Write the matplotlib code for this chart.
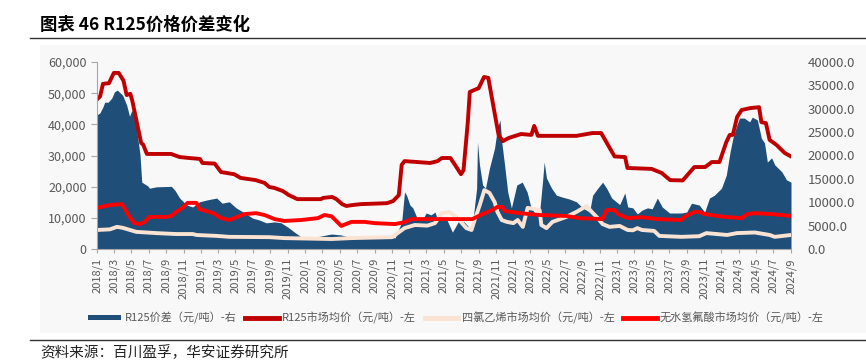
import numpy as np
import pandas as pd
import matplotlib
matplotlib.use("Agg")
import matplotlib.pyplot as plt
from matplotlib.patches import Rectangle
from matplotlib.lines import Line2D

plt.rcParams['font.family'] = ['Noto Sans CJK SC', 'DejaVu Sans']

# R125 market average price (yuan/t), left axis
r125_dates = ["2018-01-01", "2018-01-12", "2018-01-22", "2018-02-12", "2018-03-01", "2018-03-18",
              "2018-04-04", "2018-04-15", "2018-04-28", "2018-05-05", "2018-05-25", "2018-06-05",
              "2018-06-12", "2018-06-25", "2018-09-18", "2018-10-18", "2018-11-20", "2018-12-28",
              "2019-01-06", "2019-02-18", "2019-03-12", "2019-04-27", "2019-05-20", "2019-07-12",
              "2019-08-12", "2019-08-28", "2019-09-15", "2019-10-15", "2019-11-05", "2019-12-05",
              "2020-02-25", "2020-03-05", "2020-04-05", "2020-04-20", "2020-05-10", "2020-05-25",
              "2020-06-15", "2020-07-15", "2020-10-15", "2020-11-05", "2020-11-25", "2020-12-05",
              "2020-12-15", "2021-03-15", "2021-04-10", "2021-04-25", "2021-05-25", "2021-06-10",
              "2021-07-01", "2021-07-10", "2021-07-25", "2021-08-01", "2021-09-01", "2021-09-10",
              "2021-09-20", "2021-10-05", "2021-10-22", "2021-11-10", "2021-11-25", "2021-12-15",
              "2022-01-28", "2022-03-05", "2022-03-15", "2022-03-28", "2022-08-10", "2022-10-05",
              "2022-11-05", "2022-12-05", "2022-12-22", "2023-01-28", "2023-02-05", "2023-05-01",
              "2023-06-05", "2023-07-05", "2023-08-18", "2023-09-28", "2023-11-05", "2023-11-28",
              "2023-12-25", "2024-01-18", "2024-01-30", "2024-02-10", "2024-02-25", "2024-03-12",
              "2024-04-10", "2024-05-12", "2024-05-20", "2024-06-05", "2024-06-18", "2024-07-12",
              "2024-08-10", "2024-08-30"]
r125_vals = [48000, 49000, 53000, 53200, 56500, 56500,
             54000, 49400, 49800, 47500, 38800, 34000,
             33500, 30500, 30500, 29500, 29200, 28900,
             27600, 27400, 24700, 24000, 22800, 22100,
             21200, 19900, 19600, 18600, 17300, 16000,
             16000, 16400, 16700, 16000, 14400, 13800,
             14100, 14400, 14700, 15400, 17300, 27000,
             28200, 27600, 28200, 29200, 29200, 27000,
             24000, 25300, 40700, 50400, 51600, 53300,
             55200, 54900, 46200, 36600, 34600, 35600,
             36900, 36600, 39500, 36300, 36300, 37200,
             37200, 32400, 29700, 29500, 26000, 25700,
             24400, 22100, 22000, 26300, 26300, 27900,
             27900, 34300, 36600, 36600, 42400, 44600,
             45200, 45500, 40700, 40400, 35000, 33400,
             30800, 29800]

# tetrachloroethylene market average price, left axis
pce_dates = ["2018-01-01", "2018-02-15", "2018-03-12", "2018-04-01", "2018-05-19", "2018-07-28",
             "2018-10-06", "2018-12-03", "2018-12-16", "2019-02-25", "2019-04-10", "2019-08-28",
             "2019-10-20", "2020-04-03", "2020-06-12", "2020-11-01", "2020-11-21", "2020-12-15",
             "2021-01-20", "2021-03-05", "2021-04-01", "2021-04-25", "2021-05-21", "2021-06-19",
             "2021-07-20", "2021-08-07", "2021-08-18", "2021-09-05", "2021-09-21", "2021-10-09",
             "2021-10-27", "2021-11-06", "2021-11-21", "2021-12-09", "2022-01-01", "2022-01-16",
             "2022-02-03", "2022-02-20", "2022-04-03", "2022-04-09", "2022-04-27", "2022-05-18",
             "2022-07-06", "2022-08-10", "2022-09-15", "2022-10-03", "2022-10-24", "2022-11-10",
             "2022-12-04", "2023-01-09", "2023-02-06", "2023-02-24", "2023-03-12", "2023-03-28",
             "2023-05-10", "2023-05-28", "2023-08-13", "2023-10-15", "2023-11-09", "2024-01-21",
             "2024-02-24", "2024-04-27", "2024-06-18", "2024-07-06", "2024-09-01"]
pce_vals = [6100, 6300, 7100, 6800, 5500, 5100,
            4800, 4800, 4500, 4200, 3900, 3800,
            3500, 3200, 3500, 3800, 5100, 6700,
            7700, 7500, 8300, 11500, 11900, 9900,
            6700, 6100, 9300, 14100, 18900, 18000,
            15100, 11900, 9300, 8700, 8300, 9300,
            7100, 13200, 12500, 7700, 6700, 8700,
            10300, 11900, 13800, 11900, 9900, 8000,
            7100, 7400, 6100, 6000, 6700, 6100,
            5800, 4200, 3900, 4100, 5100, 4500,
            5100, 5300, 4500, 3900, 4500]

# anhydrous hydrofluoric acid market average price, left axis
hf_dates = ["2018-01-01", "2018-02-15", "2018-03-28", "2018-04-07", "2018-04-25", "2018-05-12",
            "2018-06-01", "2018-06-16", "2018-07-04", "2018-09-03", "2018-09-19", "2018-10-06",
            "2018-10-28", "2018-11-15", "2018-12-16", "2018-12-27", "2019-02-12", "2019-03-13",
            "2019-04-10", "2019-06-03", "2019-07-13", "2019-08-12", "2019-09-16", "2019-10-20",
            "2019-12-18", "2020-02-15", "2020-03-09", "2020-04-03", "2020-05-07", "2020-06-12",
            "2020-07-28", "2020-09-01", "2020-11-12", "2020-12-15", "2021-01-09", "2021-08-10",
            "2021-09-15", "2021-10-19", "2021-11-06", "2021-11-24", "2021-12-01", "2022-01-24",
            "2022-04-03", "2022-07-06", "2022-08-21", "2022-11-10", "2022-11-24", "2022-12-22",
            "2023-01-03", "2023-02-06", "2023-03-28", "2023-05-21", "2023-08-13", "2023-08-24",
            "2023-09-28", "2023-10-15", "2023-11-03", "2024-01-12", "2024-03-12", "2024-04-01",
            "2024-04-27", "2024-06-25", "2024-09-01"]
hf_vals = [13200, 14100, 14400, 13200, 10300, 8300,
           8000, 8600, 10300, 10300, 10600, 11900,
           13200, 14800, 14800, 12800, 11500, 9900,
           9300, 11200, 11500, 10900, 9600, 9000,
           9300, 9900, 10900, 10500, 7400, 8700,
           8700, 8300, 8000, 8600, 9600, 9600,
           11200, 12500, 13500, 13500, 12200, 11500,
           10900, 10600, 9900, 9600, 12500, 12500,
           11200, 9900, 10200, 9600, 9300, 10300,
           11900, 11900, 11200, 10300, 9900, 11200,
           11500, 11200, 10600]

# R125 spread (yuan/t), right axis
spread_dates = ["2018-01-01", "2018-01-11", "2018-01-22", "2018-01-28", "2018-02-09", "2018-02-22",
                "2018-03-03", "2018-03-13", "2018-04-01", "2018-04-15", "2018-04-25", "2018-05-01",
                "2018-05-05", "2018-05-19", "2018-06-01", "2018-06-07", "2018-06-28", "2018-07-04",
                "2018-07-28", "2018-09-19", "2018-10-01", "2018-10-18", "2018-11-12", "2018-12-03",
                "2018-12-27", "2019-01-22", "2019-02-25", "2019-03-16", "2019-04-10", "2019-05-04",
                "2019-06-09", "2019-07-01", "2019-07-25", "2019-08-18", "2019-09-16", "2019-10-09",
                "2019-11-01", "2019-11-25", "2019-12-18", "2020-01-24", "2020-04-03", "2020-05-07",
                "2020-06-12", "2020-11-12", "2020-12-05", "2020-12-15", "2020-12-22", "2021-01-03",
                "2021-01-13", "2021-01-28", "2021-02-15", "2021-03-01", "2021-03-18", "2021-04-01",
                "2021-04-10", "2021-04-25", "2021-05-10", "2021-06-01", "2021-06-25", "2021-07-12",
                "2021-08-01", "2021-08-10", "2021-08-25", "2021-08-28", "2021-09-04", "2021-09-15",
                "2021-09-25", "2021-10-09", "2021-10-27", "2021-11-06", "2021-11-15", "2021-11-21",
                "2021-12-01", "2021-12-12", "2021-12-25", "2022-01-13", "2022-02-01", "2022-02-18",
                "2022-03-04", "2022-03-22", "2022-04-03", "2022-04-13", "2022-04-19", "2022-04-27",
                "2022-05-15", "2022-06-01", "2022-06-22", "2022-07-16", "2022-08-10", "2022-09-01",
                "2022-09-25", "2022-10-06", "2022-10-24", "2022-11-10", "2022-11-24", "2022-12-12",
                "2022-12-28", "2023-01-09", "2023-01-27", "2023-02-06", "2023-02-24", "2023-03-12",
                "2023-03-28", "2023-04-16", "2023-05-03", "2023-05-21", "2023-06-07", "2023-07-03",
                "2023-08-13", "2023-09-01", "2023-09-18", "2023-10-15", "2023-11-03", "2023-11-20",
                "2023-12-07", "2024-01-01", "2024-01-18", "2024-01-31", "2024-02-10", "2024-02-24",
                "2024-03-04", "2024-03-21", "2024-04-09", "2024-04-18", "2024-05-06", "2024-05-20",
                "2024-05-31", "2024-06-10", "2024-06-25", "2024-07-06", "2024-07-31", "2024-08-16",
                "2024-09-01"]
spread_vals = [28700, 29100, 30400, 31400, 31400, 32300,
               33600, 34000, 32900, 30800, 28400, 29300,
               29700, 26100, 20100, 14300, 13500, 13000,
               13300, 13400, 12600, 10900, 9400, 9000,
               10100, 10500, 10900, 9800, 10100, 8800,
               7500, 6600, 6200, 5600, 5800, 5600,
               4700, 3600, 2600, 2400, 3200, 3000,
               2400, 2400, 5800, 12200, 11500, 9400,
               8800, 6600, 6200, 7700, 7300, 7900,
               6200, 6800, 6600, 3600, 6200, 5800,
               4500, 5100, 13000, 22900, 18000, 13700,
               13000, 17300, 21600, 25900, 27600, 22900,
               18000, 12200, 8800, 13700, 14300, 12200,
               8800, 7300, 7900, 14300, 18600, 15200,
               13000, 11500, 11100, 10700, 10100, 8800,
               7900, 11500, 13000, 14300, 13000, 10900,
               10100, 9500, 12000, 9000, 8800, 7500,
               8300, 8800, 8600, 10900, 9000, 7700,
               7700, 7900, 9800, 9400, 7900, 10900,
               11500, 13000, 15800, 20700, 23700, 26500,
               28000, 28000, 27200, 28200, 27600, 23700,
               22700, 18600, 19500, 18000, 16500, 14800,
               14300]

legend_labels = ["R125价差（元/吨）-右", "R125市场均价（元/吨）-左",
                 "四氯乙烯市场均价（元/吨）-左", "无水氢氟酸市场均价（元/吨）-左"]

c_area = "#1F4E79"
c_r125 = "#C00000"
c_pce = "#FBE3D3"
c_hf = "#FF0000"
grey = "#595959"

fig = plt.figure(figsize=(8.66, 3.64), dpi=100)

# light grey chart panel behind everything
fig.patches.append(Rectangle((40 / 866, 1 - 333 / 364), 826 / 866, 288 / 364,
                             transform=fig.transFigure, facecolor="#F8F8F8",
                             edgecolor="none", zorder=-5))
fig.add_artist(Line2D([30 / 866, 1], [1 - 38 / 364] * 2, color="#333333", lw=1.0))
fig.add_artist(Line2D([30 / 866, 1], [1 - 340 / 364] * 2, color="#333333", lw=1.0))
fig.text(40 / 866, 1 - 25 / 364, "图表 46 R125价格价差变化", fontsize=12.5,
         fontweight="bold", va="center", ha="left")
fig.text(40 / 866, 1 - 353 / 364, "资料来源：百川盈孚，华安证券研究所", fontsize=10.5,
         va="center", ha="left", color="#222222")

ax = fig.add_axes([97 / 866, 1 - 249 / 364, 694 / 866, 187 / 364])
ax2 = ax.twinx()
ax.set_zorder(ax2.get_zorder() + 1)
ax.patch.set_visible(False)
ax2.patch.set_visible(False)

sd = pd.to_datetime(spread_dates)
ax2.fill_between(sd, 0, spread_vals, color=c_area, lw=0)
ax2.set_ylim(0, 40000)
ax2.set_yticks(np.arange(0, 40001, 5000))
ax2.set_yticklabels([f"{v:.1f}" for v in np.arange(0, 40001, 5000)])
ax2.tick_params(axis="y", length=0, labelsize=9.5, labelcolor=grey, pad=12)

ax.plot(pd.to_datetime(pce_dates), pce_vals, color=c_pce, lw=2.8, solid_joinstyle="round")
ax.plot(pd.to_datetime(hf_dates), hf_vals, color=c_hf, lw=2.8, solid_joinstyle="round")
ax.plot(pd.to_datetime(r125_dates), r125_vals, color=c_r125, lw=2.8, solid_joinstyle="round")

ax.set_ylim(0, 60000)
ax.set_yticks(np.arange(0, 60001, 10000))
ax.set_yticklabels([f"{v:,}" for v in range(0, 60001, 10000)])
ax.tick_params(axis="y", labelsize=9, labelcolor=grey, color="#A6A6A6", length=4)

start, end = pd.Timestamp("2018-01-01"), pd.Timestamp("2024-09-01")
ax.set_xlim(start, end)
ticks = pd.date_range(start, end, freq="2MS")
ax.set_xticks(ticks)
ax.set_xticklabels([f"{t.year}/{t.month}" for t in ticks], rotation=90)
ax.tick_params(axis="x", labelsize=8, labelcolor=grey, color="#A6A6A6", length=3)

for a in (ax, ax2):
    a.spines["top"].set_visible(False)
    a.spines["right"].set_visible(False)
ax2.spines["left"].set_visible(False)
ax2.spines["bottom"].set_visible(False)
ax.spines["left"].set_color("#A6A6A6")
ax.spines["bottom"].set_color("#A6A6A6")

handles = [Rectangle((0, 0), 1, 1, facecolor=c_area, edgecolor="none"),
           Line2D([], [], color=c_r125, lw=3.5),
           Line2D([], [], color=c_pce, lw=3.5),
           Line2D([], [], color=c_hf, lw=3.5)]
leg = fig.legend(handles, legend_labels, loc="center left",
                 bbox_to_anchor=(88 / 866, 1 - 318 / 364), ncol=4, frameon=False,
                 fontsize=8, handlelength=3.0, handleheight=0.35, columnspacing=0.8,
                 handletextpad=0.3, borderaxespad=0, borderpad=0)
for t in leg.get_texts():
    t.set_color(grey)

fig.savefig("out.png", dpi=100)
